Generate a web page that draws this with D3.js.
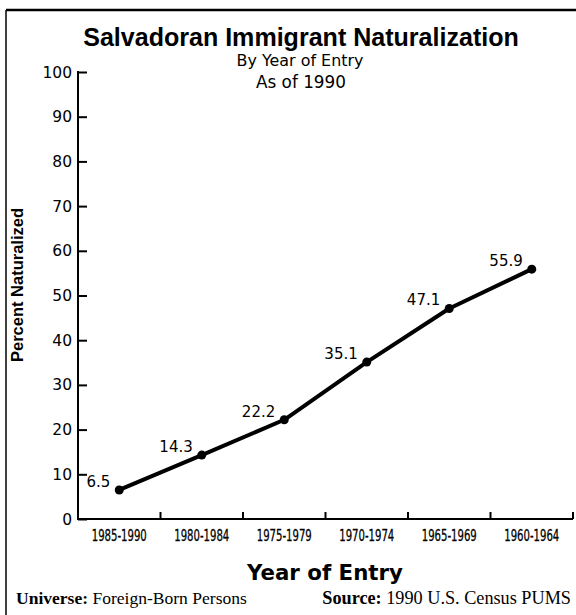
<!DOCTYPE html>
<html>
<head>
<meta charset="utf-8">
<script src="https://cdn.jsdelivr.net/npm/d3@7"></script>
<style>
  body { margin: 0; background: #fff; }
  svg { display: block; }
</style>
</head>
<body>
<div id="chart"></div>
<script>
// data
const periods = ["1985-1990", "1980-1984", "1975-1979", "1970-1974", "1965-1969", "1960-1964"]
const pctNaturalized = [6.5, 14.3, 22.2, 35.1, 47.1, 55.9]
const yTicks = [0, 10, 20, 30, 40, 50, 60, 70, 80, 90, 100]

const width = 576
const height = 615
const plot = { left: 78, right: 573, top: 72, bottom: 519 }

const svg = d3.select("#chart").append("svg")
    .attr("width", width)
    .attr("height", height)

// scale the font so the text spans the width measured on the reference
function fitWidth(text, target) {
    const size = parseFloat(text.attr("font-size"))
    const len = text.node().getComputedTextLength()
    text.attr("font-size", size * target / len)
}

// frame (only top and left edges show)
svg.append("line")
    .attr("x1", 6).attr("x2", width)
    .attr("y1", 10).attr("y2", 10)
    .attr("stroke", "#000").attr("stroke-width", 2.5)
svg.append("line")
    .attr("x1", 6).attr("x2", 6)
    .attr("y1", 10).attr("y2", height)
    .attr("stroke", "#000").attr("stroke-width", 1.5)

const x = d3.scaleBand()
    .domain(periods)
    .range([plot.left, plot.right])

const y = d3.scaleLinear()
    .domain([0, 100])
    .range([plot.bottom, plot.top])

// titles
const title = svg.append("text")
    .attr("x", 301).attr("y", 46)
    .attr("text-anchor", "middle")
    .attr("font-family", "'Liberation Sans', Arial, sans-serif")
    .attr("font-weight", "bold")
    .attr("font-size", 22)
    .text("Salvadoran Immigrant Naturalization")
fitWidth(title, 436)

const sub1 = svg.append("text")
    .attr("x", 300).attr("y", 66)
    .attr("text-anchor", "middle")
    .attr("font-family", "'DejaVu Sans', sans-serif")
    .attr("font-size", 16)
    .text("By Year of Entry")
fitWidth(sub1, 127)

const sub2 = svg.append("text")
    .attr("x", 301).attr("y", 88)
    .attr("text-anchor", "middle")
    .attr("font-family", "'DejaVu Sans', sans-serif")
    .attr("font-size", 16)
    .text("As of 1990")
fitWidth(sub2, 90)

// y axis
const yAxis = svg.append("g")
    .attr("transform", `translate(${plot.left},0)`)
    .call(d3.axisRight(y).tickValues(yTicks).tickSize(9).tickFormat(""))
yAxis.select(".domain").remove()
yAxis.selectAll("line").attr("stroke", "#000").attr("stroke-width", 2)
svg.append("line")
    .attr("x1", plot.left).attr("x2", plot.left)
    .attr("y1", plot.top - 1).attr("y2", plot.bottom + 1)
    .attr("stroke", "#000").attr("stroke-width", 2)

svg.append("g").selectAll("text")
    .data(yTicks)
    .join("text")
    .attr("x", plot.left - 6)
    .attr("y", d => y(d))
    .attr("dy", "0.36em")
    .attr("text-anchor", "end")
    .attr("font-family", "'DejaVu Sans', sans-serif")
    .attr("font-size", 15.5)
    .text(d => d)

const yLabel = svg.append("text")
    .attr("transform", "translate(23,285) rotate(-90)")
    .attr("text-anchor", "middle")
    .attr("font-family", "'Liberation Sans', Arial, sans-serif")
    .attr("font-weight", "bold")
    .attr("font-size", 16.5)
    .text("Percent Naturalized")
fitWidth(yLabel, 154)

// x axis
const xAxis = svg.append("g")
    .attr("transform", `translate(0,${plot.bottom})`)
    .call(d3.axisTop(x).tickSize(0).tickFormat(""))
xAxis.select(".domain")
    .attr("d", `M${plot.left},0H${plot.right}`)
    .attr("stroke", "#000").attr("stroke-width", 2)

// tick marks sit at the band edges
svg.append("g").selectAll("line")
    .data(periods)
    .join("line")
    .attr("x1", d => x(d) + x.bandwidth())
    .attr("x2", d => x(d) + x.bandwidth())
    .attr("y1", plot.bottom)
    .attr("y2", plot.bottom - 7)
    .attr("stroke", "#000").attr("stroke-width", 2)

// condensed labels: squeeze to the narrow width of the original
svg.append("g").selectAll("text")
    .data(periods)
    .join("text")
    .attr("x", d => x(d) + x.bandwidth() / 2)
    .attr("y", 541)
    .attr("text-anchor", "middle")
    .attr("font-family", "'DejaVu Sans Condensed', 'DejaVu Sans', sans-serif")
    .attr("font-size", 16)
    .attr("stroke", "#000")
    .attr("stroke-width", 0.3)
    .attr("textLength", 55)
    .attr("lengthAdjust", "spacingAndGlyphs")
    .text(d => d)

const xLabel = svg.append("text")
    .attr("x", 325).attr("y", 580)
    .attr("text-anchor", "middle")
    .attr("font-family", "'DejaVu Sans', sans-serif")
    .attr("font-weight", "bold")
    .attr("font-size", 20)
    .text("Year of Entry")
fitWidth(xLabel, 156)

// line + points
const pts = periods.map((p, i) => ({ period: p, value: pctNaturalized[i] }))

const line = d3.line()
    .x(d => x(d.period) + x.bandwidth() / 2)
    .y(d => y(d.value))

svg.append("path")
    .datum(pts)
    .attr("d", line)
    .attr("fill", "none")
    .attr("stroke", "#000")
    .attr("stroke-width", 4)
    .attr("stroke-linejoin", "round")

svg.append("g").selectAll("circle")
    .data(pts)
    .join("circle")
    .attr("cx", d => x(d.period) + x.bandwidth() / 2)
    .attr("cy", d => y(d.value))
    .attr("r", 4.5)
    .attr("fill", "#000")

svg.append("g").selectAll("text")
    .data(pts)
    .join("text")
    .attr("x", d => x(d.period) + x.bandwidth() / 2 - 9)
    .attr("y", d => y(d.value) - 3)
    .attr("text-anchor", "end")
    .attr("font-family", "'DejaVu Sans', sans-serif")
    .attr("font-size", 15)
    .text(d => d.value.toFixed(1))

// footer notes
const universe = svg.append("text")
    .attr("x", 16).attr("y", 604)
    .attr("font-family", "'Liberation Serif', 'Times New Roman', serif")
    .attr("font-size", 16.5)
universe.append("tspan").attr("font-weight", "bold").text("Universe:")
universe.append("tspan").text(" Foreign-Born Persons")
fitWidth(universe, 231)

const source = svg.append("text")
    .attr("x", 571).attr("y", 604)
    .attr("text-anchor", "end")
    .attr("font-family", "'Liberation Serif', 'Times New Roman', serif")
    .attr("font-size", 16.5)
source.append("tspan").attr("font-weight", "bold").text("Source:")
source.append("tspan").text(" 1990 U.S. Census PUMS")
fitWidth(source, 249)
</script>
</body>
</html>
